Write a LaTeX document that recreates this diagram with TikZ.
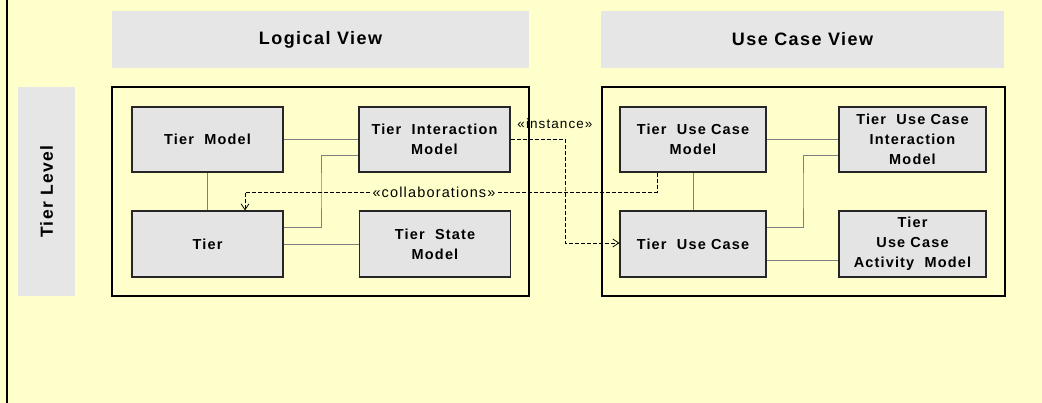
\documentclass[tikz,border=0pt]{standalone}
\usepackage{fontspec}
\setmainfont{Liberation Sans}
\newfontfamily\spaced[LetterSpace=8]{Liberation Sans}
\usetikzlibrary{arrows.meta,calc}
\definecolor{paper}{RGB}{255,255,204}
\definecolor{panel}{RGB}{230,230,230}
\definecolor{boxfill}{RGB}{228,228,228}
\definecolor{linkgray}{RGB}{128,128,128}
\tikzset{
  heading/.style={fill=panel, draw=none, font=\spaced\bfseries\fontsize{18}{22}\selectfont},
  frame/.style={draw=black, line width=1.6pt},
  element/.style={draw=black!85, line width=1.1pt, fill=boxfill, align=center,
    inner sep=0pt, font=\spaced\bfseries\fontsize{14.5}{20}\selectfont},
  link/.style={draw=linkgray, line width=0.9pt},
  dep/.style={draw=black, line width=0.8pt, dash pattern=on 4pt off 2pt,
    -{Straight Barb[length=6pt,width=8pt,line width=0.8pt]}},
  stereo/.style={font=\spaced\fontsize{13.5}{16}\selectfont, inner sep=1pt}
}
\begin{document}
\begin{tikzpicture}[x=1pt,y=-1pt]
  \useasboundingbox (0,0) rectangle (1042,403);
  \fill[paper] (0,0) rectangle (1042,403);
  \draw[line width=1.2pt] (7,0) -- (7,403);

  % column and row headings
  \node[heading, minimum width=417pt, minimum height=57pt] (hlogical) at (320.5,39.5) {Logical View};
  \node[heading, minimum width=403pt, minimum height=57pt] (husecase) at (802.5,39.5) {Use Case View};
  \node[heading, minimum width=57pt, minimum height=209pt] (htier) at (46.5,191.5) {};
  \node[font=\spaced\bfseries\fontsize{17.5}{20}\selectfont, rotate=90] (htiertext) at (46.5,191.5) {Tier Level};

  % package frames
  \draw[frame] (112,87) rectangle (529,296);
  \draw[frame] (602,87) rectangle (1005,296);

  % logical view elements
  \node[element, minimum width=151pt, minimum height=65pt] (tm)  at (207.5,139.5) {Tier~~Model};
  \node[element, minimum width=151pt, minimum height=65pt] (tim) at (434.5,139.5) {Tier~~Interaction\\Model};
  \node[element, minimum width=151pt, minimum height=66pt] (tier) at (207.5,244) {Tier};
  \node[element, minimum width=151pt, minimum height=66pt] (tsm) at (435,244) {Tier~~State\\Model};

  % use case view elements
  \node[element, minimum width=146pt, minimum height=65pt] (tucm)  at (693,139.5) {Tier~~Use Case\\Model};
  \node[element, minimum width=147pt, minimum height=65pt] (tucim) at (912.5,139.5) {Tier~~Use Case\\Interaction\\Model};
  \node[element, minimum width=146pt, minimum height=66pt] (tuc)   at (693,244) {Tier~~Use Case};
  \node[element, minimum width=147pt, minimum height=66pt] (tucam) at (912.5,244) {Tier\\Use Case\\Activity~~Model};

  % associations
  \draw[link] (tm) -- (tim);
  \draw[link] (tm) -- (tier);
  \draw[link] (tier) -- (tsm);
  \coordinate (lbend) at (321,190);
  \draw[link] ($(tim.west)+(0,15.5)$) -| (lbend) |- ($(tier.east)+(0,-17)$);

  \draw[link] (tucm) -- (tucim);
  \draw[link] (tucm) -- (tuc);
  \draw[link] ($(tuc.east)+(0,16)$) -- ($(tucam.west)+(0,16)$);
  \coordinate (ubend) at (803,190);
  \draw[link] ($(tucim.west)+(0,15.5)$) -| (ubend) |- ($(tuc.east)+(0,-17)$);

  % dependencies
  \coordinate (ibend) at (565,190);
  \draw[dep] (tim.east) -| (ibend) |- ($(tuc.west)+(0,-1)$);
  \node[stereo] (instlabel) at (555,124) {«instance»};

  \coordinate (cbend) at (450,192);
  \draw[dep] ($(tucm.south)+(-36,0)$) |- (cbend) -| ($(tier.north)+(37.5,0)$);
  \node[stereo, fill=paper, font=\spaced\fontsize{14.5}{16}\selectfont] (collablabel) at (434,192) {«collaborations»};
\end{tikzpicture}
\end{document}
